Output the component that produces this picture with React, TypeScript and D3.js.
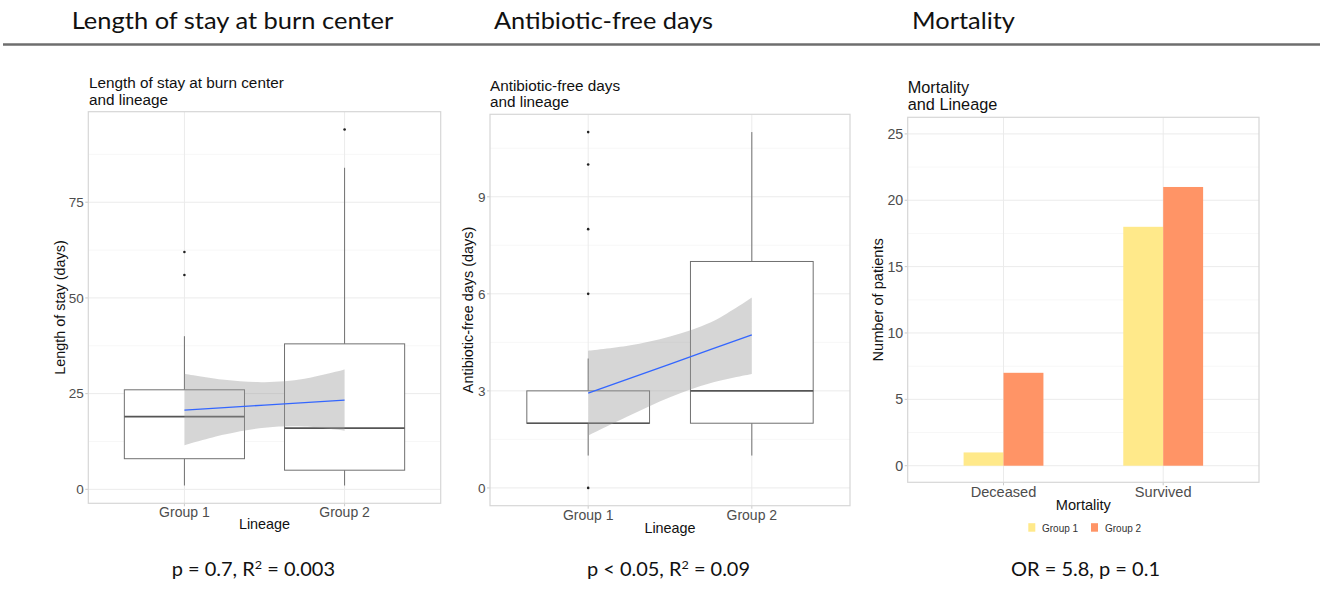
import React from "react";
import * as d3 from "d3";

// ---------- Data ----------
const groups = ["Group 1", "Group 2"];

// Length of stay (days)
const losQ1 = [8, 5];
const losMedian = [19, 16];
const losQ3 = [26, 38];
const losWhiskerLow = [1, 1];
const losWhiskerHigh = [40, 84];
const losOutliers = [[62, 56], [94]];
const losFitX = [1, 1.25, 1.5, 1.75, 2];
const losFit = [20.7, 21.35, 22.0, 22.65, 23.3];
const losLower = [11.5, 14.3, 16.1, 16.4, 15.3];
const losUpper = [30.2, 28.6, 28.0, 28.9, 31.3];
const losTicks = [0, 25, 50, 75];
const losMinor = [12.5, 37.5, 62.5, 87.5];

// Antibiotic-free days
const abxQ1 = [2, 2];
const abxMedian = [2, 3];
const abxQ3 = [3, 7];
const abxWhiskerLow = [1, 1];
const abxWhiskerHigh = [4, 11];
const abxOutliers = [[0, 6, 8, 10, 11], []];
const abxFitX = [1, 1.25, 1.5, 1.75, 2];
const abxFit = [2.93, 3.38, 3.83, 4.28, 4.73];
const abxLower = [1.62, 2.23, 2.8, 3.24, 3.52];
const abxUpper = [4.24, 4.4, 4.68, 5.12, 5.89];
const abxTicks = [0, 3, 6, 9];
const abxMinor = [1.5, 4.5, 7.5, 10.5];

// Mortality
const mortCategories = ["Deceased", "Survived"];
const mortGroup1 = [1, 18];
const mortGroup2 = [7, 21];
const mortTicks = [0, 5, 10, 15, 20, 25];
const mortMinor = [2.5, 7.5, 12.5, 17.5, 22.5];

const headings = ["Length of stay at burn center", "Antibiotic-free days", "Mortality"];

const FONT = "'Liberation Sans', Arial, Helvetica, sans-serif";
const HEAD_FONT = "Lato, 'Open Sans', sans-serif";
const GRID_MAJOR = "#ebebeb";
const GRID_MINOR = "#f5f5f5";
const BORDER = "#d6d6d6";
const TICK_TXT = "#4d4d4d";
const BOX_STROKE = "#707070";
const YELLOW = "#FFE98A";
const ORANGE = "#FF9466";

type Rect = { left: number; right: number; top: number; bottom: number };

function Frame(props: {
  r: Rect;
  y: d3.ScaleLinear<number, number>;
  xs: number[];
  ticks: number[];
  minor: number[];
  tickSize: number;
}) {
  const { r, y, xs, ticks, minor, tickSize } = props;
  return (
    <g>
      <rect x={r.left} y={r.top} width={r.right - r.left} height={r.bottom - r.top} fill="#fff" />
      {minor.map((t) => (
        <line key={"mi" + t} x1={r.left} x2={r.right} y1={y(t)} y2={y(t)} stroke={GRID_MINOR} strokeWidth={0.8} />
      ))}
      {ticks.map((t) => (
        <line key={"ma" + t} x1={r.left} x2={r.right} y1={y(t)} y2={y(t)} stroke={GRID_MAJOR} strokeWidth={1} />
      ))}
      {xs.map((xv, i) => (
        <line key={"vx" + i} x1={xv} x2={xv} y1={r.top} y2={r.bottom} stroke={GRID_MAJOR} strokeWidth={1} />
      ))}
      {ticks.map((t) => (
        <g key={"tk" + t}>
          <line x1={r.left - 3} x2={r.left} y1={y(t)} y2={y(t)} stroke="#bdbdbd" strokeWidth={0.8} />
          <text
            x={r.left - 4.5}
            y={y(t)}
            dy="0.36em"
            textAnchor="end"
            fontFamily={FONT}
            fontSize={tickSize}
            fill={TICK_TXT}
          >
            {t}
          </text>
        </g>
      ))}
      {xs.map((xv, i) => (
        <line key={"xt" + i} x1={xv} x2={xv} y1={r.bottom} y2={r.bottom + 3} stroke="#bdbdbd" strokeWidth={0.8} />
      ))}
    </g>
  );
}

function Titles(props: {
  r: Rect;
  title: string[];
  titleX: number;
  titleY: number[];
  titleSize: number;
  yTitle: string;
  yTitleX: number;
  xTitle: string;
  xTitleY: number;
  axisSize: number;
}) {
  const { r, title, titleX, titleY, titleSize, yTitle, yTitleX, xTitle, xTitleY, axisSize } = props;
  const cy = (r.top + r.bottom) / 2;
  return (
    <g fontFamily={FONT}>
      {title.map((t, i) => (
        <text key={i} x={titleX} y={titleY[i]} fontSize={titleSize} fill="#111">
          {t}
        </text>
      ))}
      <text
        transform={`translate(${yTitleX},${cy}) rotate(-90)`}
        textAnchor="middle"
        fontSize={axisSize}
        fill="#111"
      >
        {yTitle}
      </text>
      <text x={(r.left + r.right) / 2} y={xTitleY} textAnchor="middle" fontSize={axisSize} fill="#111">
        {xTitle}
      </text>
    </g>
  );
}

function BoxPanel(props: {
  r: Rect;
  domain: [number, number];
  q1: number[];
  med: number[];
  q3: number[];
  wLow: number[];
  wHigh: number[];
  outliers: number[][];
  fitX: number[];
  fit: number[];
  lower: number[];
  upper: number[];
  ticks: number[];
  minor: number[];
  tickLabelY: number;
  title: string[];
  titleX: number;
  titleY: number[];
  yTitle: string;
  yTitleX: number;
  xTitleY: number;
}) {
  const p = props;
  const r = p.r;
  const x = d3.scaleLinear().domain([0.4, 2.6]).range([r.left, r.right]);
  const y = d3.scaleLinear().domain(p.domain).range([r.bottom, r.top]);
  const xs = groups.map((_, i) => x(i + 1));
  const halfW = x(1.375) - x(1);
  const area = d3
    .area<number>()
    .x((_, i) => x(p.fitX[i]))
    .y0((_, i) => y(p.lower[i]))
    .y1((_, i) => y(p.upper[i]))
    .curve(d3.curveCatmullRom);
  const line = d3
    .line<number>()
    .x((_, i) => x(p.fitX[i]))
    .y((d) => y(d));
  return (
    <g>
      <Frame r={r} y={y} xs={xs} ticks={p.ticks} minor={p.minor} tickSize={13.5} />
      {groups.map((g, i) => {
        const cx = xs[i];
        return (
          <g key={g}>
            <line x1={cx} x2={cx} y1={y(p.wHigh[i])} y2={y(p.q3[i])} stroke={BOX_STROKE} strokeWidth={1} />
            <line x1={cx} x2={cx} y1={y(p.q1[i])} y2={y(p.wLow[i])} stroke={BOX_STROKE} strokeWidth={1} />
            <rect
              x={cx - halfW}
              y={y(p.q3[i])}
              width={halfW * 2}
              height={y(p.q1[i]) - y(p.q3[i])}
              fill="#fff"
              stroke={BOX_STROKE}
              strokeWidth={1}
            />
            <line
              x1={cx - halfW}
              x2={cx + halfW}
              y1={y(p.med[i])}
              y2={y(p.med[i])}
              stroke="#555555"
              strokeWidth={1.6}
            />
            {p.outliers[i].map((o, j) => (
              <circle key={j} cx={cx} cy={y(o)} r={1.3} fill="#222" />
            ))}
          </g>
        );
      })}
      <path d={area(p.fit) || ""} fill="#999999" fillOpacity={0.4} stroke="none" />
      <path d={line(p.fit) || ""} fill="none" stroke="#3366FF" strokeWidth={1.3} />
      <rect x={r.left} y={r.top} width={r.right - r.left} height={r.bottom - r.top} fill="none" stroke={BORDER} strokeWidth={1.2} />
      {groups.map((g, i) => (
        <text
          key={"lab" + g}
          x={xs[i]}
          y={p.tickLabelY}
          textAnchor="middle"
          fontFamily={FONT}
          fontSize={14}
          fill={TICK_TXT}
        >
          {g}
        </text>
      ))}
      <Titles
        r={r}
        title={p.title}
        titleX={p.titleX}
        titleY={p.titleY}
        titleSize={15.3}
        yTitle={p.yTitle}
        yTitleX={p.yTitleX}
        xTitle="Lineage"
        xTitleY={p.xTitleY}
        axisSize={14.4}
      />
    </g>
  );
}

function BarPanel() {
  const r: Rect = { left: 907.7, right: 1259, top: 117.3, bottom: 482.3 };
  const x = d3.scaleLinear().domain([0.4, 2.6]).range([r.left, r.right]);
  const y = d3.scaleLinear().domain([-1.25, 26.25]).range([r.bottom, r.top]);
  const xs = mortCategories.map((_, i) => x(i + 1));
  const bw = x(1.25) - x(1);
  return (
    <g>
      <Frame r={r} y={y} xs={xs} ticks={mortTicks} minor={mortMinor} tickSize={14.2} />
      {mortCategories.map((c, i) => (
        <g key={c}>
          <rect x={xs[i] - bw} y={y(mortGroup1[i])} width={bw} height={y(0) - y(mortGroup1[i])} fill={YELLOW} />
          <rect x={xs[i]} y={y(mortGroup2[i])} width={bw} height={y(0) - y(mortGroup2[i])} fill={ORANGE} />
        </g>
      ))}
      <rect x={r.left} y={r.top} width={r.right - r.left} height={r.bottom - r.top} fill="none" stroke={BORDER} strokeWidth={1.2} />
      {mortCategories.map((c, i) => (
        <text key={"l" + c} x={xs[i]} y={496.5} textAnchor="middle" fontFamily={FONT} fontSize={14.6} fill={TICK_TXT}>
          {c}
        </text>
      ))}
      <Titles
        r={r}
        title={["Mortality", "and Lineage"]}
        titleX={907.7}
        titleY={[92.5, 110]}
        titleSize={16.3}
        yTitle="Number of patients"
        yTitleX={883}
        xTitle="Mortality"
        xTitleY={510}
        axisSize={14.6}
      />
      <g fontFamily={FONT} fontSize={10} fill="#333">
        <rect x={1028.3} y={523.2} width={7} height={8.5} fill={YELLOW} />
        <text x={1042} y={531.5}>{groups[0]}</text>
        <rect x={1091} y={523.2} width={7} height={8.5} fill={ORANGE} />
        <text x={1105} y={531.5}>{groups[1]}</text>
      </g>
    </g>
  );
}

export default function App() {
  return (
    <div style={{ position: "absolute", left: 0, top: 0 }}>
      <svg width={1341} height={591} viewBox="0 0 1341 591" style={{ display: "block", background: "#fff" }}>
        <rect x={0} y={0} width={1341} height={591} fill="#fff" />
        <g fontFamily={HEAD_FONT} fill="#111" fontSize={24}>
          <text x={71.7} y={29} textLength={321.6} lengthAdjust="spacingAndGlyphs">{headings[0]}</text>
          <text x={494} y={29} textLength={219} lengthAdjust="spacingAndGlyphs">{headings[1]}</text>
          <text x={912} y={29} textLength={103} lengthAdjust="spacingAndGlyphs">{headings[2]}</text>
        </g>
        <line x1={3} x2={1320} y1={44.5} y2={44.5} stroke="#6e6e6e" strokeWidth={2.4} />

        <BoxPanel
          r={{ left: 88.3, right: 440.7, top: 111.7, bottom: 503.3 }}
          domain={[-3.65, 98.65]}
          q1={losQ1}
          med={losMedian}
          q3={losQ3}
          wLow={losWhiskerLow}
          wHigh={losWhiskerHigh}
          outliers={losOutliers}
          fitX={losFitX}
          fit={losFit}
          lower={losLower}
          upper={losUpper}
          ticks={losTicks}
          minor={losMinor}
          tickLabelY={517}
          title={["Length of stay at burn center", "and lineage"]}
          titleX={89}
          titleY={[88.3, 104.6]}
          yTitle="Length of stay (days)"
          yTitleX={64.5}
          xTitleY={529}
        />
        <BoxPanel
          r={{ left: 490, right: 850, top: 114.3, bottom: 505.7 }}
          domain={[-0.55, 11.55]}
          q1={abxQ1}
          med={abxMedian}
          q3={abxQ3}
          wLow={abxWhiskerLow}
          wHigh={abxWhiskerHigh}
          outliers={abxOutliers}
          fitX={abxFitX}
          fit={abxFit}
          lower={abxLower}
          upper={abxUpper}
          ticks={abxTicks}
          minor={abxMinor}
          tickLabelY={519.5}
          title={["Antibiotic-free days", "and lineage"]}
          titleX={490}
          titleY={[90.5, 107]}
          yTitle="Antibiotic-free days (days)"
          yTitleX={472.5}
          xTitleY={533}
        />
        <BarPanel />

        <g fontFamily={HEAD_FONT} fill="#111" fontSize={19}>
          <text x={171.7} y={576} textLength={163.3} lengthAdjust="spacingAndGlyphs">
            p = 0.7, R<tspan dy={-7} fontSize={12}>2</tspan><tspan dy={7}> = 0.003</tspan>
          </text>
          <text x={587} y={576} textLength={163} lengthAdjust="spacingAndGlyphs">
            p &lt; 0.05, R<tspan dy={-7} fontSize={12}>2</tspan><tspan dy={7}> = 0.09</tspan>
          </text>
          <text x={1011} y={576} textLength={149} lengthAdjust="spacingAndGlyphs">
            OR = 5.8, p = 0.1
          </text>
        </g>
      </svg>
    </div>
  );
}
